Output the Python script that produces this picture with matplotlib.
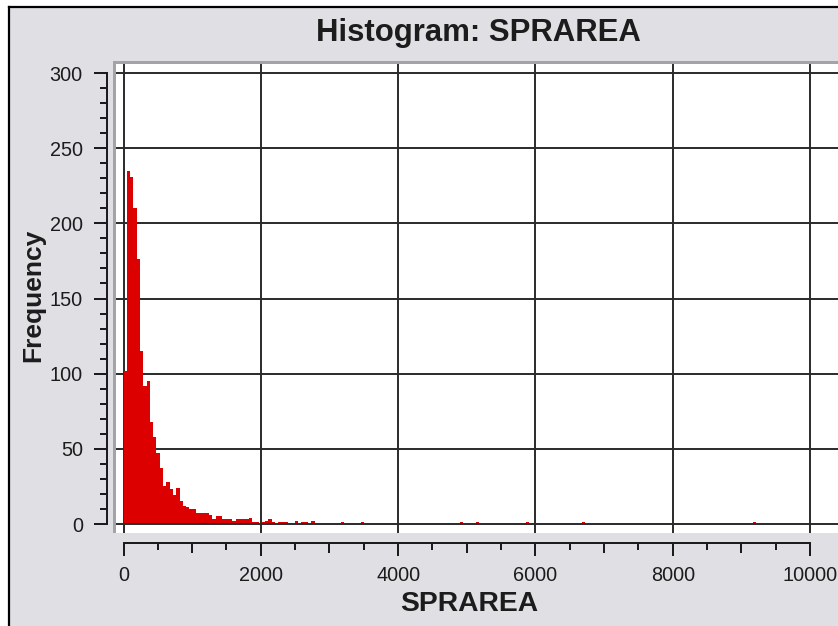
import matplotlib.pyplot as plt
import numpy as np
from matplotlib.lines import Line2D
from matplotlib.patches import Rectangle
from matplotlib.ticker import MultipleLocator, FixedLocator

plt.rcParams['font.family'] = ['Liberation Sans', 'DejaVu Sans']

# counts per bin, bins are 48 units wide starting at 0
bin_width = 48
head_counts = [102, 235, 231, 210, 176, 115, 92, 95, 68, 58,
               47, 37, 25, 28, 23, 19, 24, 15, 12, 11,
               10, 10, 7, 7, 7, 7, 6, 3, 5, 5,
               3, 3, 3, 2, 3, 3, 3, 3, 4, 1,
               1, 0, 1, 2, 3, 1, 0, 1, 1, 1,
               0, 0, 2, 0, 1, 1, 0, 2]
# a few isolated large areas further out
tail_bins = [66, 72, 102, 107, 122, 139, 191]
tail_counts = [1, 1, 1, 1, 1, 1, 1]

title = "Histogram: SPRAREA"
x_label = "SPRAREA"
y_label = "Frequency"

n_bins = max(tail_bins) + 1
counts = np.zeros(n_bins)
counts[:len(head_counts)] = head_counts
counts[tail_bins] = tail_counts
edges = np.arange(n_bins) * bin_width

W, H = 838, 626
bg = '#dfdfe4'
ink = '#1c1c1c'
fig = plt.figure(figsize=(W / 100, H / 100), dpi=100)
fig.patch.set_facecolor('white')


def fx(px):
    return px / W


def fy(py):
    return 1 - py / H


# window panel with its dark edge on the left and top
fig.patches.append(Rectangle((fx(9), 0), 1, fy(7), transform=fig.transFigure,
                             facecolor=bg, edgecolor='none', zorder=-10))
fig.lines.append(Line2D([fx(9), fx(9)], [0, fy(6.5)], transform=fig.transFigure,
                        color='black', lw=1.6))
fig.lines.append(Line2D([fx(9), 1], [fy(6.5), fy(6.5)], transform=fig.transFigure,
                        color='black', lw=1.6))
# sunken frame around the plotting area
fig.patches.append(Rectangle((fx(112.5), fy(533)), 1, fy(61) - fy(533),
                             transform=fig.transFigure, facecolor='#a3a3a8',
                             edgecolor='none', zorder=-5))

ax = fig.add_axes([fx(116), fy(533), fx(W - 116), fy(64) - fy(533)])
ax.set_facecolor('white')

# data range maps 0..10000 and 0..300 onto the inner rectangle
x0_px, x1_px = 123.5, 810.0
y0_px, y1_px = 524.0, 73.0
sx = (x1_px - x0_px) / 10000
sy = (y0_px - y1_px) / 300
ax.set_xlim(-(x0_px - 116) / sx, (W - x0_px) / sx)
ax.set_ylim(-(533 - y0_px) / sy, 300 + (y1_px - 64) / sy)

for v in range(0, 10001, 2000):
    ax.axvline(v, color='#2a2a2a', lw=1.4, zorder=1)
for v in range(50, 301, 50):
    ax.axhline(v, color='#2a2a2a', lw=1.4, zorder=1)

ax.bar(edges, counts, width=bin_width, align='edge', color='#dc0000',
       edgecolor='none', zorder=2)
ax.axhline(0, color='#2a2a2a', lw=1.4, zorder=3)

for side in ('top', 'right'):
    ax.spines[side].set_visible(False)
ax.spines['left'].set_position(('outward', 6.5))
ax.spines['left'].set_bounds(0, 300)
ax.spines['bottom'].set_position(('outward', 7))
ax.spines['bottom'].set_bounds(0, 10000)
for side in ('left', 'bottom'):
    ax.spines[side].set_color(ink)
    ax.spines[side].set_linewidth(1.44)

ax.yaxis.set_major_locator(MultipleLocator(50))
ax.yaxis.set_minor_locator(MultipleLocator(10))
ax.xaxis.set_major_locator(MultipleLocator(2000))
minor_locs = [v for v in range(500, 10001, 500) if v % 2000]
ax.xaxis.set_minor_locator(FixedLocator(minor_locs))

ax.tick_params(axis='y', which='major', length=9.7, width=1.44, color=ink,
               labelsize=14.3, labelcolor=ink, pad=7.7)
ax.tick_params(axis='y', which='minor', length=5.4, width=1.44, color=ink)
ax.tick_params(axis='x', which='major', length=9.4, width=1.44, color=ink,
               labelsize=14.3, labelcolor=ink, pad=7.5)
ax.tick_params(axis='x', which='minor', length=5.0, width=1.44, color=ink)
# thousands get a slightly longer tick than the 500 marks
for loc, tick in zip(minor_locs, ax.xaxis.get_minor_ticks(len(minor_locs))):
    if loc % 1000 == 0:
        tick.tick1line.set_markersize(7.2)

fig.text(fx(478), fy(33), title, ha='center', va='center',
         fontsize=22.4, fontweight='bold', color=ink)
fig.text(fx(469), fy(604), x_label, ha='center', va='center',
         fontsize=20.3, fontweight='bold', color=ink)
fig.text(fx(33), fy(295), y_label, ha='center', va='center', rotation=90,
         fontsize=19, fontweight='bold', color=ink)

fig.savefig('out.png', dpi=100, facecolor=fig.get_facecolor())
